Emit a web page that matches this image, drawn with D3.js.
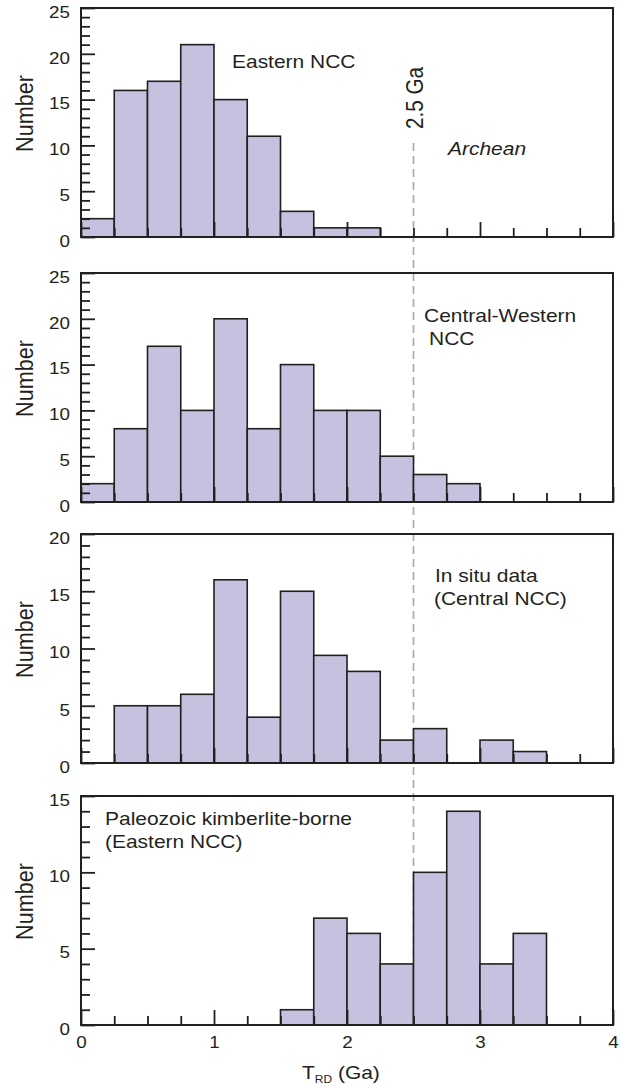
<!DOCTYPE html>
<html>
<head>
<meta charset="utf-8">
<script src="https://cdn.jsdelivr.net/npm/d3@7"></script>
<style>
  body { margin: 0; background: #fff; }
  svg text { font-family: "Liberation Sans", Arial, sans-serif; fill: #231f20; }
</style>
</head>
<body>
<div id="chart"></div>
<script>
// bin starts (Ga), bin width 0.25
const binStarts = [0, 0.25, 0.5, 0.75, 1, 1.25, 1.5, 1.75, 2, 2.25, 2.5, 2.75, 3, 3.25, 3.5, 3.75];
const binWidth = 0.25;

// counts per bin, one array per panel
const easternNCC = [2, 16, 17, 21, 15, 11, 2.8, 1, 1, 0, 0, 0, 0, 0, 0, 0];
const centralWesternNCC = [2, 8, 17, 10, 20, 8, 15, 10, 10, 5, 3, 2, 0, 0, 0, 0];
const inSituCentralNCC = [0, 5, 5, 6, 16, 4, 15, 9.4, 8, 2, 3, 0, 2, 1, 0, 0];
const kimberliteEasternNCC = [0, 0, 0, 0, 0, 0, 1, 7, 6, 4, 10, 14, 4, 6, 0, 0];

const yMaxes = [25, 25, 20, 15];
const xTickLabels = [0, 1, 2, 3, 4];
const archeanBoundary = 2.5;

const W = 623, H = 1086;
const SX = 1.14; // the figure's text is a bit wider than tall
const left = 81, right = 613;
const tops = [8, 273, 534, 796];
const panelH = 229;
const ink = "#231f20";

const svg = d3.select("#chart").append("svg")
    .attr("width", W)
    .attr("height", H);

const x = d3.scaleLinear().domain([0, 4]).range([left, right]);

function stretch(sel) {
    sel.each(function() {
        const t = d3.select(this);
        const tx = +t.attr("x") || 0;
        t.attr("transform", `translate(${tx * (1 - SX)},0) scale(${SX},1)`);
    });
}

function label(g, str, px, py, size, opts = {}) {
    const rot = opts.rotate ? " rotate(-90)" : "";
    return g.append("text")
        .attr("transform", `translate(${px},${py}) scale(${SX},1)${rot}`)
        .attr("text-anchor", opts.anchor || "start")
        .style("font-size", size + "px")
        .style("font-style", opts.italic ? "italic" : "normal")
        .text(str);
}

// dashed 2.5 Ga line goes behind all bars
const dashLayer = svg.append("g");

const panels = [
    { data: easternNCC, yMax: yMaxes[0] },
    { data: centralWesternNCC, yMax: yMaxes[1] },
    { data: inSituCentralNCC, yMax: yMaxes[2] },
    { data: kimberliteEasternNCC, yMax: yMaxes[3] }
];

panels.forEach((p, i) => {
    const top = tops[i];
    const y = d3.scaleLinear().domain([0, p.yMax]).range([top + panelH, top]);
    const g = svg.append("g");
    const bins = binStarts.map((b, j) => ({ x0: b, count: p.data[j] })).filter(d => d.count > 0);

    g.selectAll("rect.bar")
        .data(bins)
        .enter()
        .append("rect")
        .attr("class", "bar")
        .attr("x", d => x(d.x0))
        .attr("width", d => x(d.x0 + binWidth) - x(d.x0))
        .attr("y", d => y(d.count))
        .attr("height", d => y(0) - y(d.count))
        .style("fill", "#c5c1df")
        .style("stroke", ink)
        .style("stroke-width", 1.6);

    // y axis: major every 5, minor every 1, ticks point inward
    const yMajor = d3.range(0, p.yMax + 1, 5);
    const yMinor = d3.range(0, p.yMax + 1).filter(v => v % 5 !== 0);

    const yAx = g.append("g")
        .attr("transform", `translate(${left},0)`)
        .call(d3.axisLeft(y).tickValues(yMajor).tickSize(-14).tickPadding(11));
    yAx.selectAll("text").attr("y", 4).style("font-size", "16.5px").style("font-family", null);
    stretch(yAx.selectAll("text"));

    g.append("g")
        .attr("transform", `translate(${left},0)`)
        .call(d3.axisLeft(y).tickValues(yMinor).tickSize(-9).tickFormat(""));

    // x axis
    const xMinor = d3.range(0, 4, binWidth).filter(v => v % 1 !== 0);
    const isLast = i === panels.length - 1;
    const xAx = g.append("g")
        .attr("transform", `translate(0,${top + panelH})`)
        .call(d3.axisBottom(x).tickValues(xTickLabels).tickSize(-15).tickPadding(11)
            .tickFormat(isLast ? d3.format("d") : ""));
    xAx.selectAll("text").style("font-size", "16.5px").style("font-family", null);
    stretch(xAx.selectAll("text"));

    g.append("g")
        .attr("transform", `translate(0,${top + panelH})`)
        .call(d3.axisBottom(x).tickValues(xMinor).tickSize(-9).tickFormat(""));

    g.selectAll(".domain").remove();
    g.selectAll(".tick line").style("stroke", ink).style("stroke-width", 1.8);

    // frame
    g.append("rect")
        .attr("x", left)
        .attr("y", top)
        .attr("width", right - left)
        .attr("height", panelH)
        .style("fill", "none")
        .style("stroke", ink)
        .style("stroke-width", 2);

    label(g, "Number", 33, top + panelH / 2 - 9, 21.6, { rotate: true, anchor: "middle" });

    p.g = g;
});

dashLayer.append("line")
    .attr("x1", x(archeanBoundary))
    .attr("x2", x(archeanBoundary))
    .attr("y1", 143)
    .attr("y2", tops[3] + panelH)
    .style("stroke", "#a7a7a7")
    .style("stroke-width", 1.6)
    .style("stroke-dasharray", "8,5");

// annotations
const ann = svg.append("g");
label(ann, "Eastern NCC", 232, 68, 18.4);
label(ann, "Archean", 448, 155, 18.4, { italic: true });
label(ann, "2.5 Ga", 423, 129, 20.7, { rotate: true });
label(ann, "Central-Western", 424, 322, 18.4);
label(ann, "NCC", 429, 345, 18.4);
label(ann, "In situ data", 435, 582, 18.4);
label(ann, "(Central NCC)", 434, 605, 18.4);
label(ann, "Paleozoic kimberlite-borne", 105, 825, 18.4);
label(ann, "(Eastern NCC)", 105, 848, 18.4);

// x axis title: T_RD (Ga)
const xt = ann.append("text")
    .attr("transform", `translate(302,1079) scale(${SX},1)`)
    .style("font-size", "18.4px");
xt.append("tspan").text("T");
xt.append("tspan").attr("dy", 4).style("font-size", "10.5px").text("RD");
xt.append("tspan").attr("dy", -4).text(" (Ga)");
</script>
</body>
</html>
